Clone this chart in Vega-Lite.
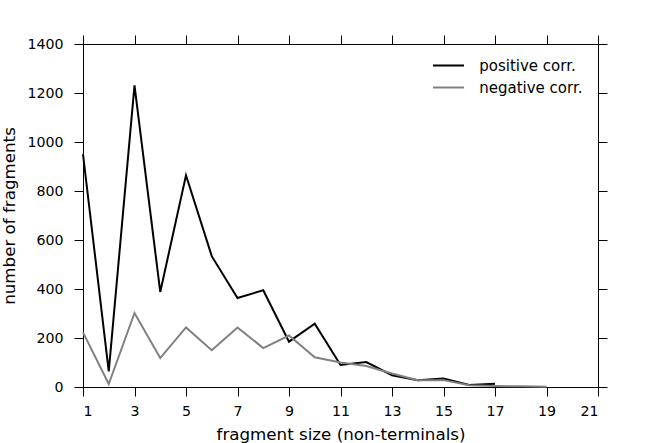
{
  "$schema": "https://vega.github.io/schema/vega-lite/v6.json",
  "width": 515,
  "height": 343,
  "autosize": {"type": "none"},
  "padding": {"left": 83, "top": 44, "right": 66, "bottom": 56},
  "background": "white",
  "data": {
    "values": [
      {"size": 1, "n": 950, "series": "positive corr."},
      {"size": 2, "n": 64, "series": "positive corr."},
      {"size": 3, "n": 1231, "series": "positive corr."},
      {"size": 4, "n": 388, "series": "positive corr."},
      {"size": 5, "n": 864, "series": "positive corr."},
      {"size": 6, "n": 534, "series": "positive corr."},
      {"size": 7, "n": 363, "series": "positive corr."},
      {"size": 8, "n": 395, "series": "positive corr."},
      {"size": 9, "n": 185, "series": "positive corr."},
      {"size": 10, "n": 258, "series": "positive corr."},
      {"size": 11, "n": 90, "series": "positive corr."},
      {"size": 12, "n": 102, "series": "positive corr."},
      {"size": 13, "n": 48, "series": "positive corr."},
      {"size": 14, "n": 28, "series": "positive corr."},
      {"size": 15, "n": 35, "series": "positive corr."},
      {"size": 16, "n": 8, "series": "positive corr."},
      {"size": 17, "n": 13, "series": "positive corr."},
      {"size": 1, "n": 223, "series": "negative corr."},
      {"size": 2, "n": 12, "series": "negative corr."},
      {"size": 3, "n": 302, "series": "negative corr."},
      {"size": 4, "n": 118, "series": "negative corr."},
      {"size": 5, "n": 243, "series": "negative corr."},
      {"size": 6, "n": 150, "series": "negative corr."},
      {"size": 7, "n": 243, "series": "negative corr."},
      {"size": 8, "n": 159, "series": "negative corr."},
      {"size": 9, "n": 210, "series": "negative corr."},
      {"size": 10, "n": 121, "series": "negative corr."},
      {"size": 11, "n": 100, "series": "negative corr."},
      {"size": 12, "n": 86, "series": "negative corr."},
      {"size": 13, "n": 55, "series": "negative corr."},
      {"size": 14, "n": 28, "series": "negative corr."},
      {"size": 15, "n": 28, "series": "negative corr."},
      {"size": 16, "n": 7, "series": "negative corr."},
      {"size": 17, "n": 4, "series": "negative corr."},
      {"size": 18, "n": 3, "series": "negative corr."},
      {"size": 19, "n": 1, "series": "negative corr."}
    ]
  },
  "layer": [
    {
      "mark": {"type": "line", "strokeWidth": 2},
      "encoding": {
        "x": {
          "field": "size",
          "type": "quantitative",
          "scale": {"domain": [1, 21], "nice": false, "zero": false},
          "axis": {
            "orient": "bottom",
            "values": [1, 3, 5, 7, 9, 11, 13, 15, 17, 19, 21],
            "format": "d",
            "title": "fragment size (non-terminals)",
            "titleY": 52,
            "titleBaseline": "alphabetic"
          }
        },
        "y": {
          "field": "n",
          "type": "quantitative",
          "scale": {"domain": [0, 1400], "nice": false},
          "axis": {
            "orient": "left",
            "values": [0, 200, 400, 600, 800, 1000, 1200, 1400],
            "format": "d",
            "title": "number of fragments",
            "titleX": -69,
            "titleY": 171.5,
            "titleBaseline": "alphabetic"
          }
        },
        "color": {
          "field": "series",
          "type": "nominal",
          "scale": {"domain": ["positive corr.", "negative corr."], "range": ["#000000", "#808080"]},
          "legend": {
            "title": null,
            "orient": "none",
            "legendX": 356.5,
            "legendY": 12.5,
            "padding": 0,
            "symbolType": "M-2,0H2",
            "symbolSize": 240,
            "symbolStrokeWidth": 2,
            "labelOffset": 21.75,
            "rowPadding": 5,
            "labelFont": "DejaVu Sans",
            "labelFontSize": 15,
            "labelColor": "#000000"
          }
        },
        "order": {"field": "size", "type": "quantitative"}
      }
    },
    {
      "mark": {"type": "line", "opacity": 0},
      "encoding": {
        "x": {
          "field": "size",
          "type": "quantitative",
          "axis": {
            "orient": "top",
            "values": [1, 3, 5, 7, 9, 11, 13, 15, 17, 19, 21],
            "labels": false,
            "title": null
          }
        },
        "y": {
          "field": "n",
          "type": "quantitative",
          "axis": {
            "orient": "right",
            "values": [0, 200, 400, 600, 800, 1000, 1200, 1400],
            "labels": false,
            "title": null
          }
        },
        "detail": {"field": "series", "type": "nominal"}
      }
    }
  ],
  "resolve": {"axis": {"x": "independent", "y": "independent"}},
  "config": {
    "view": {"stroke": null},
    "axis": {
      "grid": false,
      "domainColor": "#000000",
      "domainWidth": 1,
      "tickColor": "#000000",
      "tickWidth": 1,
      "tickSize": 9,
      "labelFont": "DejaVu Sans",
      "labelFontSize": 14.2,
      "labelColor": "#000000",
      "titleFont": "DejaVu Sans",
      "titleFontSize": 16.7,
      "titleFontWeight": "normal",
      "titleColor": "#000000"
    },
    "axisLeft": {"labelPadding": 11},
    "axisBottom": {"labelPadding": 8}
  }
}
